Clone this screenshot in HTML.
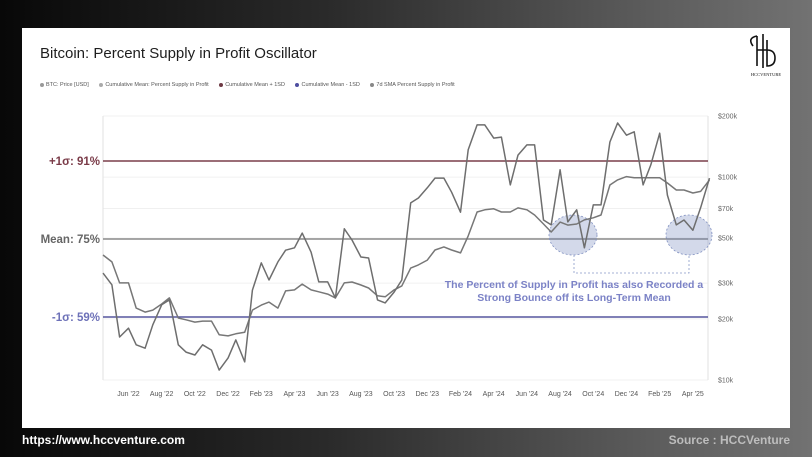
<!DOCTYPE html>
<html><head><meta charset="utf-8">
<style>
html,body{margin:0;padding:0}
body{width:812px;height:457px;overflow:hidden;position:relative;font-family:"Liberation Sans",sans-serif;background:linear-gradient(90deg,#080808 0%,#2a2a2a 40%,#5c5c5c 80%,#727272 100%)}
#card{position:absolute;left:22px;top:28px;width:768px;height:400px;background:#fff}
#title{position:absolute;left:40px;top:45px;font-size:15px;color:#1e1e1e}
#legend{position:absolute;left:40px;top:82px;font-size:5.5px;color:#555;white-space:nowrap}
#legend span{margin-right:9px}
#legend i{display:inline-block;width:4px;height:4px;border-radius:50%;margin-right:2px;vertical-align:middle}
.foot{position:absolute;top:433px;font-size:12px;font-weight:bold}
svg{position:absolute;left:0;top:0}
</style></head><body>
<div id="card"></div>
<div id="title">Bitcoin: Percent Supply in Profit Oscillator</div>
<div id="legend">
<span><i style="background:#999"></i>BTC: Price [USD]</span>
<span><i style="background:#aaa"></i>Cumulative Mean: Percent Supply in Profit</span>
<span><i style="background:#6e3a44"></i>Cumulative Mean + 1SD</span>
<span><i style="background:#4e4ea0"></i>Cumulative Mean - 1SD</span>
<span><i style="background:#888"></i>7d SMA Percent Supply in Profit</span>
</div>
<div class="foot" style="left:22px;color:#fff">https://www.hccventure.com</div>
<div class="foot" style="right:22px;color:#bdbdbd">Source : HCCVenture</div>
<svg id="chart" width="812" height="457"></svg>
<script>
const dates=["22-04-15","22-05-01","22-05-15","22-06-01","22-06-15","22-07-01","22-07-15","22-08-01","22-08-15","22-09-01","22-09-15","22-10-01","22-10-15","22-11-01","22-11-15","22-12-01","22-12-15","23-01-01","23-01-15","23-02-01","23-02-15","23-03-01","23-03-15","23-04-01","23-04-15","23-05-01","23-05-15","23-06-01","23-06-15","23-07-01","23-07-15","23-08-01","23-08-15","23-09-01","23-09-15","23-10-01","23-10-15","23-11-01","23-11-15","23-12-01","23-12-15","24-01-01","24-01-15","24-02-01","24-02-15","24-03-01","24-03-15","24-04-01","24-04-15","24-05-01","24-05-15","24-06-01","24-06-15","24-07-01","24-07-15","24-08-01","24-08-15","24-09-01","24-09-15","24-10-01","24-10-15","24-11-01","24-11-15","24-12-01","24-12-15","25-01-01","25-01-15","25-02-01","25-02-15","25-03-01","25-03-15","25-04-01","25-04-15","25-05-01"];
const profitPct=[68.0,65.6,54.9,56.7,53.3,52.6,57.4,61.5,62.5,53.3,51.8,51.2,53.3,52.2,48.1,50.6,54.3,49.8,64.5,70.1,66.6,70.3,72.7,73.2,76.2,72.3,66.2,66.2,62.9,77.1,74.8,71.3,71.1,62.5,61.9,64.1,66.6,82.4,83.4,85.5,87.5,87.5,84.6,80.5,93.3,98.4,98.4,95.7,95.9,86.1,92.2,94.3,94.3,78.9,77.9,89.2,78.5,81.0,73.2,82.0,82.0,94.9,98.8,96.3,97.0,86.1,90.2,96.7,84.0,77.9,78.9,76.8,81.4,87.5];
const priceK=[41.3,38.2,30.1,30.1,22.6,21.6,22.1,23.7,25.4,20.2,19.8,19.3,19.5,19.5,16.7,16.5,16.9,17.2,22.1,23.4,24.2,22.6,27.5,27.8,29.7,27.8,27.2,26.5,25.4,30.1,30.4,29.4,28.4,26.0,25.7,27.8,29.1,35.6,36.9,39.0,43.7,45.3,43.7,42.3,51.3,67.3,69.0,69.8,67.3,67.3,70.5,69.0,65.0,58.7,53.6,60.0,58.0,58.7,61.5,63.0,65.0,91.4,96.8,100.6,99.2,99.2,99.2,99.2,93.5,86.4,86.4,83.5,85.0,96.8];
const bands=[91,75,59];
const bandLabels=["+1σ: 91%","Mean: 75%","-1σ: 59%"];
const priceTicks=[200,100,70,50,30,20,10];
const priceTickLabels=["$200k","$100k","$70k","$50k","$30k","$20k","$10k"];
const xTickLabels=["Jun '22","Aug '22","Oct '22","Dec '22","Feb '23","Apr '23","Jun '23","Aug '23","Oct '23","Dec '23","Feb '24","Apr '24","Jun '24","Aug '24","Oct '24","Dec '24","Feb '25","Apr '25"];
const xTickDates=["22-06-01","22-08-01","22-10-01","22-12-01","23-02-01","23-04-01","23-06-01","23-08-01","23-10-01","23-12-01","24-02-01","24-04-01","24-06-01","24-08-01","24-10-01","24-12-01","25-02-01","25-04-01"];

const NS="http://www.w3.org/2000/svg",svg=document.getElementById('chart');
const L=103,R=708,T=116,B=380;
function monthsOf(d){const p=d.split('-').map(Number);return (p[0]-22)*12+(p[1]-4)+(p[2]-15)/30;}
const X=d=>L+monthsOf(d)*16.6;
const Yp=v=>161+(91-v)*4.875;
const Ypr=k=>B-Math.log(k/10)/Math.log(20)*(B-T);
function el(t,a,p){const e=document.createElementNS(NS,t);for(const k in a)e.setAttribute(k,a[k]);(p||svg).appendChild(e);return e;}

priceTicks.forEach((k,i)=>{
 const g=el('line',{x1:L,x2:R,y1:Ypr(k),y2:Ypr(k),stroke:'#f0f0f0','stroke-width':1});
 
 
 const t=el('text',{x:718,y:Ypr(k)+2.5,'font-size':7,fill:'#666'});
 t.textContent=priceTickLabels[i];
 
 
});
el('line',{x1:L,x2:L,y1:T,y2:B,stroke:'#e2e2e2','stroke-width':1});
el('line',{x1:R,x2:R,y1:T,y2:B,stroke:'#e2e2e2','stroke-width':1});
xTickDates.forEach((d,i)=>{
 const t=el('text',{x:X(d),y:396,'font-size':7,fill:'#555','text-anchor':'middle'});
 t.textContent=xTickLabels[i];
 
 
});
const bandColors=['#7a3f4a','#8a8a8a','#56569e'],labelColors=['#7a3b48','#666','#6d71b8'];
bands.forEach((v,i)=>{
 const ln=el('line',{x1:L,x2:R,y1:Yp(v),y2:Yp(v),stroke:bandColors[i],'stroke-width':1.6});
 
 
 const t=el('text',{x:100,y:Yp(v)+4,'font-size':11.5,'font-weight':'bold',fill:labelColors[i],'text-anchor':'end'});
 t.textContent=bandLabels[i];
 
 
});
// highlight circles
[[573,235,24,20],[689,235,23,20]].forEach(c=>{
 const e=el('ellipse',{cx:c[0],cy:c[1],rx:c[2],ry:c[3],fill:'rgba(110,130,185,0.3)',stroke:'#8090c0','stroke-dasharray':'2,2','stroke-width':0.8});
 
 
});
const br=el('polyline',{points:'574,255 574,273 689,273 689,255',fill:'none',stroke:'#8898c8','stroke-dasharray':'2,2','stroke-width':0.8});


// series
const p1=el('path',{d:dates.map((d,i)=>(i?'L':'M')+X(d).toFixed(1)+','+Ypr(priceK[i]).toFixed(1)).join(''),fill:'none',stroke:'#777','stroke-width':1.5,'stroke-linejoin':'round'});


const p2=el('path',{d:dates.map((d,i)=>(i?'L':'M')+X(d).toFixed(1)+','+Yp(profitPct[i]).toFixed(1)).join(''),fill:'none',stroke:'#6e6e6e','stroke-width':1.5,'stroke-linejoin':'round'});


// annotation
['The Percent of Supply in Profit has also Recorded a','Strong Bounce off its Long-Term Mean'].forEach((s,i)=>{
 const t=el('text',{x:574,y:288+i*13,'font-size':10.5,'font-weight':'bold',fill:'#7b82c6','text-anchor':'middle'});
 t.textContent=s;
 
 
});
// logo
const lg=el('g',{});


el('path',{d:'M757,36 v30 M763,34 v34 M753,46 q-6,-8 4,-10 M757,50 h10 M767,40 v26 q8,0 8,-8 q0,-8 -8,-8',fill:'none',stroke:'#111','stroke-width':1.6},lg);
const lt=el('text',{x:766,y:76,'font-size':4.5,fill:'#111','text-anchor':'middle','font-family':'Liberation Serif'},lg);
lt.textContent='HCCVENTURE';
</script>
</body></html>
